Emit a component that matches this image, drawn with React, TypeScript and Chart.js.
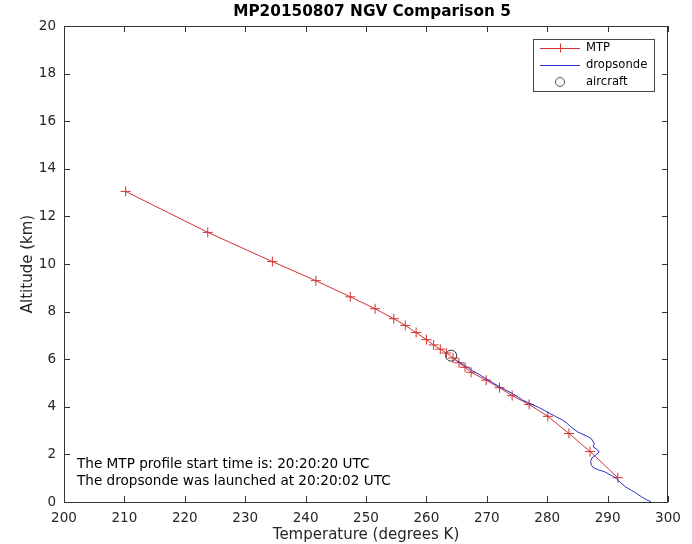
import React, { useEffect, useRef } from "react";
import { Chart, registerables } from "chart.js";

Chart.register(...registerables);

const chartTitle = "MP20150807 NGV Comparison 5";
const xTitle = "Temperature (degrees K)";
const yTitle = "Altitude (km)";
const notes = [
  "The MTP profile start time is: 20:20:20 UTC",
  "The dropsonde was launched at 20:20:02 UTC",
];
const legendLabels = ["MTP", "dropsonde", "aircraft"];

const mtpTemp = [210.2, 223.8, 234.5, 241.7, 247.4, 251.5, 254.6, 256.5, 258.3, 260.0, 261.2, 262.3, 263.3, 264.4, 265.4, 266.4, 267.4, 269.9, 272.1, 274.2, 277.0, 280.1, 283.6, 287.1, 291.7];
const mtpAlt = [13.05, 11.33, 10.1, 9.3, 8.62, 8.12, 7.7, 7.42, 7.12, 6.82, 6.6, 6.42, 6.26, 6.05, 5.85, 5.66, 5.45, 5.12, 4.8, 4.47, 4.1, 3.6, 2.88, 2.12, 1.02];

const sondeTemp = [265.0, 265.6, 266.3, 267.0, 267.6, 268.8, 269.9, 271.0, 272.1, 273.0, 274.0, 275.0, 275.9, 276.8, 277.5, 278.7, 279.6, 280.3, 281.5, 282.5, 283.3, 284.1, 285.0, 286.1, 286.8, 287.3, 287.8, 287.6, 288.3, 288.6, 288.0, 287.4, 287.2, 287.3, 287.6, 288.5, 289.5, 290.6, 291.5, 292.0, 293.0, 294.0, 294.8, 295.6, 296.4, 297.2];
const sondeAlt = [5.95, 5.85, 5.74, 5.62, 5.52, 5.35, 5.18, 5.01, 4.84, 4.72, 4.59, 4.44, 4.29, 4.18, 4.1, 3.96, 3.84, 3.74, 3.58, 3.45, 3.3, 3.12, 2.95, 2.82, 2.74, 2.66, 2.45, 2.32, 2.2, 2.1, 1.97, 1.85, 1.7, 1.56, 1.45, 1.35, 1.27, 1.12, 0.98, 0.84, 0.63, 0.48, 0.36, 0.22, 0.1, 0.0];

const aircraftTemp = [264.1];
const aircraftAlt = [6.15];

const xMin = 200, xMax = 300, xStep = 10;
const yMin = 0, yMax = 20, yStep = 2;

const RED = "rgb(210,50,50)";
const BLUE = "rgb(40,50,200)";
const AX = "#333333";
const FONT = "'DejaVu Sans', sans-serif";

const zip = (xs: number[], ys: number[]) => xs.map((x, i) => ({ x, y: ys[i] }));

const decor = {
  id: "decor",
  beforeDraw(chart: any) {
    const c = chart.ctx;
    c.save();
    c.fillStyle = "#fff";
    c.fillRect(0, 0, chart.width, chart.height);
    c.restore();
  },
  afterDraw(chart: any) {
    const c = chart.ctx;
    const a = chart.chartArea;
    const xs = chart.scales.x;
    const ys = chart.scales.y;
    c.save();
    c.strokeStyle = AX;
    c.lineWidth = 1;
    c.strokeRect(Math.round(a.left) + 0.5, Math.round(a.top) + 0.5, Math.round(a.right - a.left) - 1, Math.round(a.bottom - a.top));
    const tl = 6;
    c.beginPath();
    for (let v = xMin; v <= xMax; v += xStep) {
      const px = Math.round(xs.getPixelForValue(v)) + 0.5;
      c.moveTo(px, a.bottom);
      c.lineTo(px, a.bottom - tl);
      c.moveTo(px, a.top);
      c.lineTo(px, a.top + tl);
    }
    for (let v = yMin; v <= yMax; v += yStep) {
      const py = Math.round(ys.getPixelForValue(v)) + 0.5;
      c.moveTo(a.left, py);
      c.lineTo(a.left + tl, py);
      c.moveTo(a.right, py);
      c.lineTo(a.right - tl, py);
    }
    c.stroke();

    c.fillStyle = "#000";
    c.font = `bold 15.3px ${FONT}`;
    c.textAlign = "center";
    c.textBaseline = "middle";
    c.fillText(chartTitle, (a.left + a.right) / 2 + 6, 12);

    c.fillStyle = "#262626";
    c.font = `15px ${FONT}`;
    c.fillText(xTitle, (a.left + a.right) / 2, 535);
    c.save();
    c.translate(28, (a.top + a.bottom) / 2);
    c.rotate(-Math.PI / 2);
    c.fillText(yTitle, 0, 0);
    c.restore();

    c.textAlign = "left";
    c.font = `13.6px ${FONT}`;
    c.fillStyle = "#000";
    c.fillText(notes[0], 77, 464);
    c.fillText(notes[1], 77, 481);

    const lx = 533, ly = 39, lw = 121, lh = 52;
    c.fillStyle = "#fff";
    c.fillRect(lx, ly, lw, lh);
    c.strokeStyle = "#444";
    c.strokeRect(lx + 0.5, ly + 0.5, lw, lh);
    const rows = [48, 65, 82];
    c.strokeStyle = RED;
    c.beginPath();
    c.moveTo(540, rows[0] + 0.5);
    c.lineTo(580, rows[0] + 0.5);
    c.moveTo(560.5, rows[0] - 4.5);
    c.lineTo(560.5, rows[0] + 4.5);
    c.moveTo(555.5, rows[0] + 0.5);
    c.lineTo(565.5, rows[0] + 0.5);
    c.stroke();
    c.strokeStyle = BLUE;
    c.beginPath();
    c.moveTo(540, rows[1] + 0.5);
    c.lineTo(580, rows[1] + 0.5);
    c.stroke();
    c.strokeStyle = "#555";
    c.beginPath();
    c.arc(560, rows[2], 4.5, 0, Math.PI * 2);
    c.stroke();
    c.fillStyle = "#000";
    c.font = `11.6px ${FONT}`;
    legendLabels.forEach((t, i) => c.fillText(t, 586, rows[i]));
    c.restore();
  },
};

export default function App() {
  const ref = useRef<HTMLCanvasElement>(null);
  useEffect(() => {
    document.body.style.margin = "0";
    const chart = new Chart(ref.current as HTMLCanvasElement, {
      type: "line",
      data: {
        datasets: [
          {
            label: legendLabels[2],
            data: zip(aircraftTemp, aircraftAlt),
            showLine: false,
            pointStyle: "circle",
            pointRadius: 5.5,
            pointBorderWidth: 1,
            pointBorderColor: "#333",
            pointBackgroundColor: "rgba(0,0,0,0)",
            order: 0,
          } as any,
          {
            label: legendLabels[1],
            data: zip(sondeTemp, sondeAlt),
            borderColor: BLUE,
            borderWidth: 1,
            pointRadius: 0,
            tension: 0,
            order: 1,
          },
          {
            label: legendLabels[0],
            data: zip(mtpTemp, mtpAlt),
            borderColor: RED,
            borderWidth: 1,
            pointStyle: "cross",
            pointRadius: 5,
            pointBorderWidth: 1,
            pointBorderColor: RED,
            tension: 0,
            order: 2,
          },
        ],
      },
      options: {
        animation: false,
        responsive: false,
        maintainAspectRatio: false,
        layout: { padding: { left: 0, right: 24, top: 26, bottom: 0 } },
        plugins: { legend: { display: false }, tooltip: { enabled: false }, title: { display: false } },
        scales: {
          x: {
            type: "linear",
            min: xMin,
            max: xMax,
            ticks: { stepSize: xStep, color: "#262626", font: { size: 13.5, family: FONT }, padding: 8, maxRotation: 0 },
            grid: { display: false, drawTicks: false },
            border: { display: false },
            afterFit: (s: any) => { s.height = 42; },
          },
          y: {
            type: "linear",
            min: yMin,
            max: yMax,
            ticks: { stepSize: yStep, color: "#262626", font: { size: 13.5, family: FONT }, padding: 8 },
            grid: { display: false, drawTicks: false },
            border: { display: false },
            afterFit: (s: any) => { s.width = 64; },
          },
        },
      },
      plugins: [decor],
    });
    return () => chart.destroy();
  }, []);
  return <canvas ref={ref} width={692} height={544} style={{ display: "block" }} />;
}
